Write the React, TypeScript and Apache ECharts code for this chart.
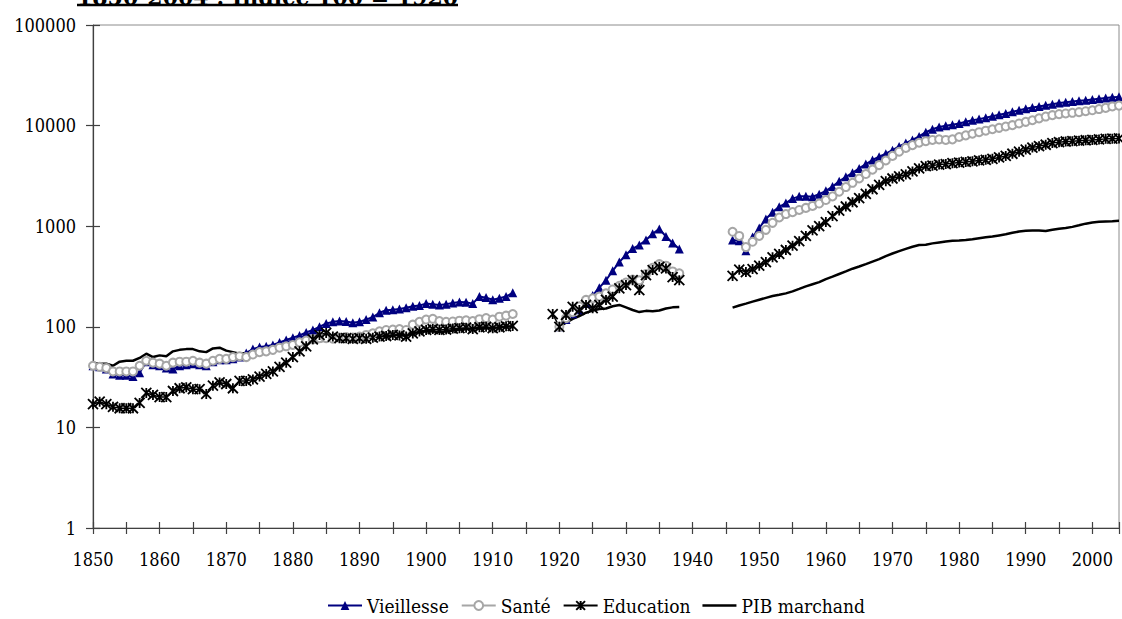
import React, { useEffect, useRef } from "react";
import * as echarts from "echarts";

// Tick labels / categories
const yTickValues = [1, 10, 100, 1000, 10000, 100000];
const seriesNames = ["Vieillesse", "Santé", "Education", "PIB marchand"];
const titleText = "1850-2004 : Indice 100 = 1920";

// Segments: first year of each segment
const startA = 1850; // 1850-1913
const startB = 1920; // 1920-1938
const startBEdu = 1919; // 1919-1938 (Education)
const startC = 1946; // 1946-2004

const vieillesseA = [
  41, 40, 38, 34, 33, 33, 32, 35, 45, 42,
  41, 39, 38, 41, 42, 43, 42, 41, 45, 47,
  47, 48, 50, 55, 60, 63, 64, 66, 70, 74,
  78, 82, 88, 93, 100, 108, 112, 114, 113, 110,
  112, 118, 125, 138, 146, 148, 150, 155, 160, 163,
  170, 168, 165, 168, 172, 176, 175, 170, 200, 195,
  186, 192, 200, 218,
];
const vieillesseB = [100, 118, 135, 148, 170, 205, 245, 290, 360, 440, 520, 600, 650, 730, 840, 940, 790, 680, 595];
const vieillesseC = [
  730, 715, 570, 780,
  960, 1180, 1380, 1560, 1700, 1880, 1980, 1990, 1960, 2080,
  2250, 2480, 2800, 3100, 3400, 3750, 4150, 4550, 4900, 5250,
  5700, 6200, 6700, 7200, 7800, 8600, 9200, 9700, 9950, 10200,
  10500, 10900, 11300, 11600, 12000, 12400, 12800, 13200, 13700, 14200,
  14700, 15100, 15500, 15900, 16300, 16800, 17100, 17400, 17700, 17900,
  18200, 18500, 18800, 19100, 19300,
];

const santeA = [
  41, 40, 39, 36, 36, 36, 36, 41, 46, 44,
  43, 41, 44, 45, 45, 46, 44, 43, 46, 48,
  48, 50, 51, 50, 53, 56, 57, 59, 62, 64,
  66, 70, 73, 75, 77, 77, 76, 78, 79, 78,
  80, 83, 86, 90, 93, 94, 95, 93, 105, 112,
  118, 120, 114, 112, 113, 115, 116, 114, 119, 122,
  118, 126, 129, 134,
];
const santeB = [100, 122, 140, 160, 185, 192, 200, 215, 235, 255, 275, 295, 290, 335, 385, 420, 405, 355, 340];
const santeC = [
  880, 800, 620, 700,
  800, 920, 1080, 1220, 1320, 1380, 1450, 1520, 1590, 1680,
  1820, 1980, 2200, 2450, 2700, 2980, 3300, 3650, 4050, 4500,
  5000, 5500, 6000, 6400, 6750, 7000, 7200, 7300, 7200, 7300,
  7700, 8000, 8300, 8600, 8900, 9200, 9500, 9800, 10100, 10500,
  10900, 11300, 11800, 12300, 12700, 13000, 13200, 13400, 13600, 13900,
  14200, 14600, 15000, 15500, 15800,
];

const educationA = [
  17, 18, 17, 16, 15.5, 15.5, 15.5, 17.5, 22, 21,
  20, 20, 23, 24.5, 25, 24, 24, 21.5, 26, 28,
  27, 24.5, 29, 29, 30, 32, 34, 36, 40, 44,
  50, 57, 64, 75, 83, 87, 80, 77, 77, 76,
  77, 76, 78, 80, 81, 83, 82, 80, 86, 90,
  93, 95, 93, 94, 96, 97, 98, 95, 99, 100,
  97, 99, 101, 102,
];
const educationB = [134, 100, 131, 158, 147, 165, 153, 165, 185, 199, 241, 260, 291, 232, 327, 366, 395, 380, 312, 291];
const educationC = [
  320, 370, 350, 375,
  405, 440, 490, 530, 580, 640, 710, 800, 910, 1000,
  1100, 1260, 1430, 1570, 1730, 1900, 2100, 2330, 2580, 2800,
  2980, 3120, 3270, 3500, 3750, 3950, 4000, 4100, 4150, 4230,
  4290, 4350, 4420, 4500, 4570, 4680, 4820, 5000, 5250, 5500,
  5780, 6050, 6250, 6450, 6700, 6850, 6950, 7000, 7080, 7150,
  7200, 7280, 7380, 7420, 7450,
];

const pibA = [
  44, 43, 43, 41, 45, 46, 46, 49, 54, 50,
  52, 51, 57, 59, 60, 60, 57, 56, 61, 62,
  58, 56, 54, 55, 56, 58, 60, 60, 62, 63,
  64, 66, 68, 70, 72, 73, 74, 74, 75, 76,
  77, 78, 79, 80, 81, 82, 83, 83, 86, 89,
  91, 90, 89, 90, 92, 94, 95, 96, 97, 98,
  97, 99, 100, 101,
];
const pibB = [100, 110, 120, 128, 138, 145, 150, 152, 160, 165, 156, 147, 140, 144, 143, 145, 152, 156, 157];
const pibC = [
  155, 163, 170, 178,
  186, 194, 202, 208, 215, 225, 238, 252, 265, 278,
  298, 315, 335, 355, 378, 398, 420, 445, 470, 505,
  535, 565, 595, 625, 650, 655, 675, 690, 705, 715,
  720, 728, 742, 760, 775, 790, 810, 830, 860, 885,
  900, 905, 905, 895, 920, 945, 960, 985, 1020, 1060,
  1090, 1110, 1115, 1120, 1130,
];

function buildSeries(segments: [number, number[]][]) {
  const out: any[] = [];
  segments.forEach(([start, vals], si) => {
    if (si > 0) {
      out.push([start - 1, null]);
    }
    vals.forEach((v, i) => out.push([start + i, v]));
  });
  return out;
}

const FONT = "DejaVu Serif Condensed, DejaVu Serif";
const FONT_TITLE = "DejaVu Serif";

export default function App() {
  const ref = useRef<HTMLDivElement>(null);
  useEffect(() => {
    if (!ref.current) return;
    const chart = echarts.init(ref.current, undefined, { renderer: "svg" });
    const xCommon = {
      type: "value",
      min: 1850,
      max: 2004,
      interval: 5,
      position: "bottom",
      splitLine: { show: false },
    };
    const yCommon = {
      type: "log",
      logBase: 10,
      min: yTickValues[0],
      max: yTickValues[yTickValues.length - 1],
      position: "left",
      splitLine: { show: false },
    };
    chart.setOption({
      animation: false,
      backgroundColor: "#ffffff",
      textStyle: { fontFamily: FONT },
      grid: {
        left: 93,
        top: 25,
        height: 503,
        width: 1035.65,
        show: true,
        borderColor: "#8c8c8c",
        borderWidth: 1,
        backgroundColor: "transparent",
      },
      legend: {
        data: [
          { name: seriesNames[0] },
          { name: seriesNames[1] },
          { name: seriesNames[2] },
          { name: seriesNames[3], icon: "path://M0,0 L40,0 L40,3 L0,3 Z" },
        ],
        left: 322,
        top: 591,
        itemWidth: 34,
        itemHeight: 11,
        itemGap: 12,
        textStyle: { fontFamily: FONT, fontSize: 19, color: "#000" },
      },
      graphic: [
        {
          type: "text",
          x: 77,
          y: 8,
          style: {
            text: titleText,
            fontFamily: FONT_TITLE,
            fontSize: 22,
            fontWeight: "bold",
            fill: "#000",
            verticalAlign: "bottom",
          },
        },
        {
          type: "line",
          shape: { x1: 77, y1: 5, x2: 458, y2: 5 },
          style: { stroke: "#000", lineWidth: 2.5 },
        },
      ],
      xAxis: [
        {
          ...xCommon,
          axisLine: { show: true, lineStyle: { color: "#404040", width: 1.2 } },
          axisTick: { show: true, length: 6, lineStyle: { color: "#404040", width: 1.2 } },
          axisLabel: {
            margin: 22,
            fontFamily: FONT,
            fontSize: 18,
            color: "#000",
            formatter: (v: number) => (v % 10 === 0 ? String(v) : ""),
          },
        },
        {
          ...xCommon,
          axisLine: { show: false },
          axisTick: { show: true, inside: true, length: 6, lineStyle: { color: "#404040", width: 1.2 } },
          axisLabel: { show: false },
        },
      ],
      yAxis: [
        {
          ...yCommon,
          axisLine: { show: true, lineStyle: { color: "#404040", width: 1.2 } },
          axisTick: { show: true, length: 7, lineStyle: { color: "#404040", width: 1.2 } },
          axisLabel: {
            margin: 17,
            fontFamily: FONT,
            fontSize: 18,
            color: "#000",
            formatter: (v: number) => String(Math.round(v)),
          },
        },
        {
          ...yCommon,
          axisLine: { show: false },
          axisTick: { show: true, inside: true, length: 7, lineStyle: { color: "#404040", width: 1.2 } },
          axisLabel: { show: false },
        },
      ],
      series: [
        {
          name: seriesNames[0],
          type: "line",
          data: buildSeries([[startA, vieillesseA], [startB, vieillesseB], [startC, vieillesseC]]),
          symbol: "triangle",
          symbolSize: 9,
          showAllSymbol: true,
          connectNulls: false,
          lineStyle: { color: "#000080", width: 2 },
          itemStyle: { color: "#000080" },
        },
        {
          name: seriesNames[1],
          type: "line",
          data: buildSeries([[startA, santeA], [startB, santeB], [startC, santeC]]),
          symbol: "emptyCircle",
          symbolSize: 8,
          showAllSymbol: true,
          connectNulls: false,
          lineStyle: { color: "#a6a6a6", width: 1.5 },
          itemStyle: { color: "#a6a6a6", borderColor: "#a6a6a6", borderWidth: 1.8 },
        },
        {
          name: seriesNames[2],
          type: "line",
          data: buildSeries([[startA, educationA], [startBEdu, educationB], [startC, educationC]]),
          symbol: "path://M0,0 L10,10 M10,0 L0,10 M5,0 L5,10",
          symbolSize: 10,
          showAllSymbol: true,
          connectNulls: false,
          lineStyle: { color: "#000", width: 1.5 },
          itemStyle: { color: "#000", borderColor: "#000", borderWidth: 1.8 },
        },
        {
          name: seriesNames[3],
          type: "line",
          data: buildSeries([[startA, pibA], [startB, pibB], [startC, pibC]]),
          symbol: "none",
          showSymbol: false,
          connectNulls: false,
          lineStyle: { color: "#000", width: 2.5 },
          itemStyle: { color: "#000" },
        },
      ],
    });
    return () => chart.dispose();
  }, []);
  return (
    <div
      ref={ref}
      style={{ position: "fixed", left: 0, top: 0, width: 1122, height: 619, background: "#fff" }}
    />
  );
}
